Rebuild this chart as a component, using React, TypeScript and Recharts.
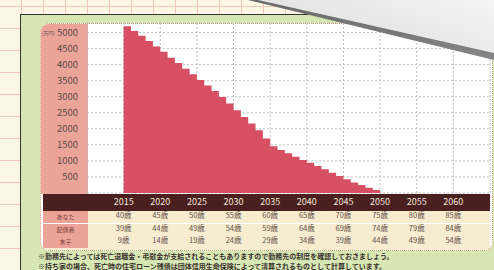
import { AreaChart, Area, XAxis, YAxis, CartesianGrid } from 'recharts';

// yearly balance (万円)
const years = [
  2015, 2016, 2017, 2018, 2019, 2020, 2021, 2022, 2023, 2024, 2025, 2026,
  2027, 2028, 2029, 2030, 2031, 2032, 2033, 2034, 2035, 2036, 2037, 2038,
  2039, 2040, 2041, 2042, 2043, 2044, 2045, 2046, 2047, 2048, 2049, 2050,
];
const balance = [
  5200, 5050, 4900, 4740, 4570, 4400, 4220, 4050, 3870, 3700, 3520, 3350,
  3180, 2990, 2790, 2580, 2370, 2170, 1960, 1700, 1460, 1340, 1240, 1130,
  1030, 940, 840, 740, 630, 530, 430, 330, 250, 160, 90, 0,
];
const tickYears = [2015, 2020, 2025, 2030, 2035, 2040, 2045, 2050, 2055, 2060];
const yTicks = [500, 1000, 1500, 2000, 2500, 3000, 3500, 4000, 4500, 5000];
const rowLabels = ['あなた', '配偶者', '末子'];
const ageYou = [40, 45, 50, 55, 60, 65, 70, 75, 80, 85];
const ageSpouse = [39, 44, 49, 54, 59, 64, 69, 74, 79, 84];
const ageChild = [9, 14, 19, 24, 29, 34, 39, 44, 49, 54];
const notes = [
  '※勤務先によっては死亡退職金・弔慰金が支給されることもありますので勤務先の制度を確認しておきましょう。',
  '※持ち家の場合、死亡時の住宅ローン残債は団体信用生命保険によって清算されるものとして計算しています。',
];

const data = years.map((year, i) => ({ year, balance: balance[i] }));
const ageRows = [ageYou, ageSpouse, ageChild];

const FONT = '"Noto Sans CJK JP", "Noto Sans", sans-serif';
const BAND_TOP = 193;

function YTick({ x, y, payload }: any) {
  return (
    <g>
      <text x={x - 1} y={y + 3.5} textAnchor="end" fontSize={9.5} fill="#5b4a44" fontFamily={FONT}>
        {payload.value}
      </text>
      {payload.value === 5000 && (
        <text x={x - 24} y={y + 2.5} textAnchor="end" fontSize={5} fill="#6b5a54" fontFamily={FONT}>
          (万円)
        </text>
      )}
    </g>
  );
}

function AgeTick({ x, payload }: any) {
  const i = tickYears.indexOf(payload.value);
  return (
    <g fontFamily={FONT}>
      <text x={x} y={BAND_TOP + 12} textAnchor="middle" fontSize={9} fill="#f3e6da">
        {payload.value}
      </text>
      {ageRows.map((row, r) => (
        <text key={r} x={x} y={BAND_TOP + 25 + r * 12.5} textAnchor="middle" fontSize={7.5} fill="#65524a">
          {row[i]}歳
        </text>
      ))}
    </g>
  );
}

export default function App() {
  return (
    <div
      style={{
        position: 'absolute',
        left: 0,
        top: 0,
        width: 494,
        height: 270,
        overflow: 'hidden',
        background: '#fcf6e4',
        backgroundImage:
          'repeating-linear-gradient(0deg, transparent 0 21px, #f2c8bd 21px 22px), repeating-linear-gradient(90deg, transparent 0 21px, #f2c8bd 21px 22px)',
        fontFamily: FONT,
      }}
    >
      {/* green sheet */}
      <div
        style={{
          position: 'absolute',
          left: 20,
          top: 14,
          width: 474,
          height: 256,
          background: '#d7e7b3',
          borderLeft: '1px solid #333',
          borderTop: '1px solid #333',
        }}
      />
      {/* inner rounded panel */}
      <div
        style={{
          position: 'absolute',
          left: 40,
          top: 23,
          width: 451,
          height: 226,
          background: '#ffffff',
          border: '1px dotted #c99a6a',
          borderRadius: 9,
          overflow: 'hidden',
        }}
      >
        <div style={{ position: 'absolute', left: 0, top: 0, width: 47, height: 170, background: '#eba497' }} />
        <div style={{ position: 'absolute', left: 2, top: 170, width: 447, height: 17, background: '#4a1f20' }} />
        {rowLabels.map((label, r) => (
          <div key={label}>
            <div
              style={{
                position: 'absolute',
                left: 2,
                top: 187 + r * 12.5,
                width: 45,
                height: 12,
                background: '#eba497',
                fontSize: 6,
                color: '#7a3a36',
                textAlign: 'center',
                lineHeight: '12px',
                whiteSpace: 'nowrap',
              }}
            >
              {label}
            </div>
            <div
              style={{
                position: 'absolute',
                left: 47,
                top: 187 + r * 12.5,
                width: 402,
                height: 12,
                background: '#f6ecd0',
              }}
            />
          </div>
        ))}
        <div style={{ position: 'absolute', left: 0, top: 224, width: 451, height: 4, background: '#f6ecd0' }} />
      </div>

      <div style={{ position: 'absolute', left: 0, top: 0 }}>
        <AreaChart width={494} height={270} data={data} margin={{ top: 23, right: 4, bottom: 23, left: 40 }}>
          <CartesianGrid stroke="#bdbdbd" strokeDasharray="2 2" />
          <XAxis
            dataKey="year"
            type="number"
            domain={[2010, 2065]}
            ticks={tickYears}
            interval={0}
            height={54}
            axisLine={false}
            tickLine={false}
            tick={<AgeTick />}
          />
          <YAxis
            type="number"
            domain={[0, 5300]}
            ticks={yTicks}
            interval={0}
            width={47}
            axisLine={false}
            tickLine={false}
            tick={<YTick />}
          />
          <Area
            type="stepAfter"
            dataKey="balance"
            stroke="none"
            fill="#d64f62"
            fillOpacity={1}
            isAnimationActive={false}
          />
        </AreaChart>
      </div>

      {notes.map((n, i) => (
        <div
          key={i}
          style={{
            position: 'absolute',
            left: 38,
            top: 252 + i * 10,
            fontSize: 7,
            fontWeight: 700,
            color: '#3a3230',
            whiteSpace: 'nowrap',
            lineHeight: '9px',
          }}
        >
          {n}
        </div>
      ))}

      {/* page curl */}
      <div
        style={{
          position: 'absolute',
          left: 0,
          top: 0,
          width: 494,
          height: 70,
          background: 'linear-gradient(200deg, #f4f4f4 0%, #d9d9d9 60%, #c8c8c8 100%)',
          clipPath: 'polygon(256px 0, 494px 0, 494px 54px)',
        }}
      />
      <div
        style={{
          position: 'absolute',
          left: 0,
          top: 0,
          width: 494,
          height: 70,
          background: 'linear-gradient(180deg, #6a6a6a, #8a8a8a)',
          clipPath: 'polygon(248px 0, 258px 0, 494px 53px, 494px 60px)',
        }}
      />
    </div>
  );
}
